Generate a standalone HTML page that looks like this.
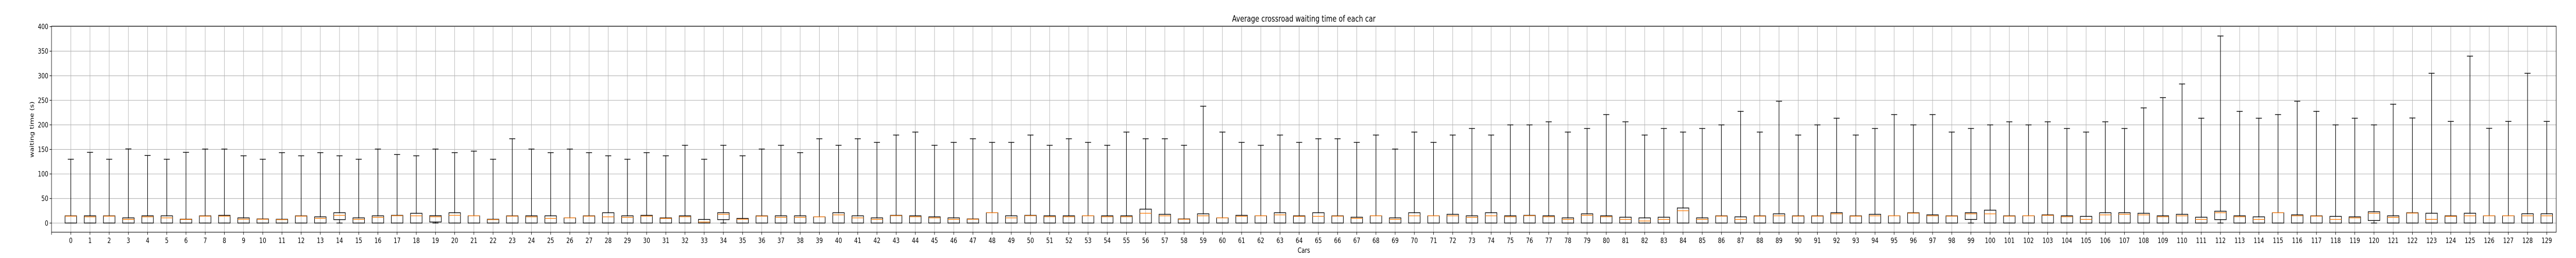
<!DOCTYPE html>
<html>
<head>
<meta charset="utf-8">
<style>
  html,body{margin:0;padding:0;background:#fff;width:100%;height:100%;overflow:hidden;}
  svg{display:block;width:100vw;height:100vh;font-family:"DejaVu Sans","Liberation Sans",sans-serif;}
</style>
</head>
<body>
<svg id="chart" viewBox="0 0 6500 500" preserveAspectRatio="none" xmlns="http://www.w3.org/2000/svg">
  <rect x="0" y="0" width="6500" height="500" fill="#ffffff"/>
  <g id="grid"></g>
  <g id="boxes"></g>
  <g id="axes"></g>
  <text x="3290" y="42" font-size="16.7" text-anchor="middle" fill="#000">Average crossroad waiting time of each car</text>
  <text x="3290" y="490" font-size="13.9" text-anchor="middle" fill="#000">Cars</text>
  <text x="0" y="0" font-size="13.9" text-anchor="middle" fill="#000" transform="translate(85,251) rotate(-90)">waiting time (s)</text>
</svg>
<script>
const categories = Array.from({length:130}, (_, i) => String(i));
const whisHi = [130,144,130,151,137.6,130,144,
150.7,150.7,137,130,143.4,137,143.4,137,130,150.7,139.6,137,150.7,143.4,
146.5,130,171.7,150.7,143.4,150.7,143.4,137,130,143.4,137,158.4,130,158.4,137,
150.7,158.4,143.4,171.7,158.4,171.7,164.3,179.3,185.3,158.4,164.3,171.7,164.3,164.3,179.3,
158.4,171.7,164.3,158.4,185.3,171.7,171.7,158.4,238,185.3,164.3,158.4,179.3,164.3,171.7,
171.7,164.3,179.3,150.7,185.3,164.3,179.3,192.6,179.3,199.9,199.9,206.2,185.3,192.6,220.9,
206.2,179.3,192.6,185.3,192.6,199.9,227.5,185.3,248.1,179.3,199.9,213.5,179.3,192.6,220.9,
199.9,220.9,185.3,192.6,199.9,206.2,199.9,206.2,192.6,185.3,206.2,192.6,234.5,255.4,283.3,
213.5,381,227.5,213.5,220.9,248.1,227.5,199.9,213.5,199.9,
242,214,305,207,340,193,207,305,207];
const q3 = [14.7,14.7,14.7,10.5,14.7,14.7,8,
14.7,15.7,10.5,8.4,7.7,14.7,12.6,21,10.5,14.7,15.7,19.9,15,21,
14.7,7.7,14.7,14.7,14.7,10.5,14.7,21,14.7,15.7,10.5,14.7,7.3,21,9.4,
14.7,14.7,14.7,12.6,21,14.7,10.5,15.7,14.7,12.6,10.5,8.4,21,14.7,15.7,
14.7,14.7,14.7,14.7,14.7,28.3,17.8,8.4,18.8,10.5,15.7,14.7,21,14.7,21,
14.7,11.9,14.7,10.5,21,14.7,17.8,14.7,21,14.7,15.7,14.7,10.5,18.8,14.7,
11.9,10.5,11.9,30.7,10.5,14.7,12.6,14.7,18.8,14.7,14.7,21,14.7,17.8,14.7,
21,16.7,14.7,21,26.2,14.7,14.7,16.7,14.7,13.6,21,21,19.9,14.7,17.8,
11.9,24.1,14.7,12.6,21,16.7,14.7,13.6,12.6,23,
14.7,21,20,14.7,20,14.7,14.7,18.9,18.9];
const medians = [14,12.6,14,7.4,12.6,10.5,7.4,
14,14,7.7,7.7,7,14,9.4,15.7,7.3,11.5,15,14.7,12.9,15.7,
14.7,7,14,12.6,9.4,10.5,14,12.6,11.5,14,9.4,12.9,2.1,17.8,7.7,
14,11.5,11.5,12.6,16.7,10.5,7.3,15,12.9,10.5,7.3,7.7,21,10.5,15,
12.9,12.9,14.7,12.9,12.9,19.9,14.7,7.7,14.7,10.5,13.6,14.7,16.7,13.6,13.6,
14,9.4,14.7,7.3,14.7,14.7,14.7,11.5,14.7,12.9,15,12.9,7.3,15.7,12.9,
7.3,4.2,7.3,25.1,7.3,14,7.3,14,14.7,14,14,18.8,14,14.7,14.7,
20.2,14.7,14,18.8,18.8,14,14.7,15.7,12.9,7.3,16.7,17.8,16.7,12.9,14.7,
7.3,21,12.9,7.3,21,14.7,14,7.3,10.5,19.9,
11.6,20.3,7.4,13.7,14.7,14.7,14.7,14.7,14.7];
const q1 = [0,0,0,0,0,0,0,0,0,0,
0,0,0,0,7,0,0,0,0,2.1,
0,0,0,0,0,0,0,0,0,0,
0,0,0,0,7,0,0,0,0,0,
0,0,0,0,0,0,0,0,0,0,
0,0,0,0,0,0,0,0,0,0,
0,0,0,0,0,0,0,0,0,0,
0,0,0,0,0,0,0,0,0,0,
0,0,0,0,0,0,0,0,0,0,
0,0,0,0,0,0,0,0,0,7.3,
0,0,0,0,0,0,0,0,0,0,
0,0,7,0,0,0,0,0,0,0,
5.2,0,0,0,0,0,0,0,0,0];
const whisLo = [0,0,0,0,0,0,0,0,0,0,0,0,0,0,0,0,0,0,0,0,0,0,0,0,0,0,0,0,0,0,0,0,0,0,0,0,0,0,0,0,0,0,0,0,0,0,0,0,0,0,0,0,0,0,0,0,0,0,0,0,0,0,0,0,0,0,0,0,0,0,0,0,0,0,0,0,0,0,0,0,0,0,0,0,0,0,0,0,0,0,0,0,0,0,0,0,0,0,0,0,0,0,0,0,0,0,0,0,0,0,0,0,0,0,0,0,0,0,0,0,0,0,0,0,0,0,0,0,0,0];
const yTicks = [0,50,100,150,200,250,300,350,400];

const NS = "http://www.w3.org/2000/svg";
const AX = {left:130, right:6450, top:50.7, bottom:450};
function xScale(i){ return 178.7 + i*48.43; }
function yScale(v){ return 432.3 - v*0.9517; }
function mk(tag, attrs, parent){
  const e = document.createElementNS(NS, tag);
  for (const k in attrs) e.setAttribute(k, attrs[k]);
  parent.appendChild(e);
  return e;
}
const grid = document.getElementById('grid');
const boxes = document.getElementById('boxes');
const axes = document.getElementById('axes');

yTicks.forEach(t => {
  const y = yScale(t);
  const l = mk('line', {x1:AX.left, x2:AX.right, y1:y, y2:y, stroke:'#b0b0b0', 'stroke-width':1.1}, grid);
  
  
});
categories.forEach((c, i) => {
  const x = xScale(i);
  const l = mk('line', {x1:x, x2:x, y1:AX.top, y2:AX.bottom, stroke:'#b0b0b0', 'stroke-width':1.1}, grid);
  
  
});

const halfBox = 14.6, halfCap = 7.6;
categories.forEach((c, i) => {
  const x = xScale(i);
  const g = mk('g', {}, boxes);
  
  
  const yq1 = yScale(q1[i]), yq3 = yScale(q3[i]);
  const yHi = yScale(whisHi[i]), yLo = yScale(whisLo[i]), yMed = yScale(medians[i]);
  const w1 = mk('line', {x1:x, x2:x, y1:yq3, y2:yHi, stroke:'#000', 'stroke-width':1.4}, g);
  
  
  const c1 = mk('line', {x1:x-halfCap, x2:x+halfCap, y1:yHi, y2:yHi, stroke:'#000', 'stroke-width':1.4}, g);
  
  
  const w2 = mk('line', {x1:x, x2:x, y1:yq1, y2:yLo, stroke:'#000', 'stroke-width':1.4}, g);
  
  
  const c2 = mk('line', {x1:x-halfCap, x2:x+halfCap, y1:yLo, y2:yLo, stroke:'#000', 'stroke-width':1.4}, g);
  
  
  const r = mk('rect', {x:x-halfBox, y:yq3, width:2*halfBox, height:Math.max(0.5, yq1-yq3), fill:'none', stroke:'#000', 'stroke-width':1.4}, g);
  
  
  const m = mk('line', {x1:x-halfBox, x2:x+halfBox, y1:yMed, y2:yMed, stroke:'#ff7f0e', 'stroke-width':1.4}, g);
  
  
});

const frame = mk('rect', {x:AX.left, y:AX.top, width:AX.right-AX.left, height:AX.bottom-AX.top, fill:'none', stroke:'#000', 'stroke-width':1.1}, axes);



yTicks.forEach(t => {
  const y = yScale(t);
  const tk = mk('line', {x1:AX.left-4.9, x2:AX.left, y1:y, y2:y, stroke:'#000', 'stroke-width':1.1}, axes);
  
  
  const tx = mk('text', {x:AX.left-8, y:y+5, 'font-size':13.9, 'text-anchor':'end', fill:'#000'}, axes);
  tx.textContent = String(t);
  
  
});
const lt = mk('line', {x1:AX.left, x2:AX.left, y1:AX.bottom, y2:AX.bottom+4.9, stroke:'#000', 'stroke-width':1.1}, axes);


categories.forEach((c, i) => {
  const x = xScale(i);
  const tk = mk('line', {x1:x, x2:x, y1:AX.bottom, y2:AX.bottom+4.9, stroke:'#000', 'stroke-width':1.1}, axes);
  
  
  const tx = mk('text', {x:x, y:471, 'font-size':13.9, 'text-anchor':'middle', fill:'#000'}, axes);
  tx.textContent = c;
  
  
});
</script>
</body>
</html>
